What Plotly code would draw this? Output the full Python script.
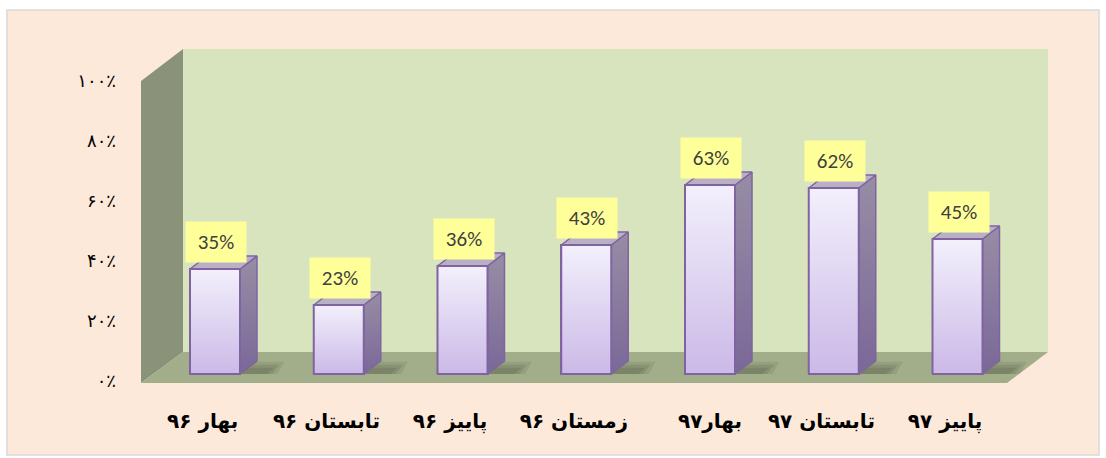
import plotly.graph_objects as go

# ---- data ----
categories = ["بهار ۹۶", "تابستان ۹۶", "پاییز ۹۶", "زمستان ۹۶", "بهار۹۷", "تابستان ۹۷", "پاییز ۹۷"]
values = [35, 23, 36, 43, 63, 62, 45]
value_labels = ["35%", "23%", "36%", "43%", "63%", "62%", "45%"]
y_tick_values = [0, 20, 40, 60, 80, 100]
y_tick_labels = ["۰٪", "۲۰٪", "۴۰٪", "۶۰٪", "۸۰٪", "۱۰۰٪"]

# ---- geometry (pixel layout of the page) ----
W, H = 1106, 458
L, R, T, B = 141, 1048, 49, 383          # plot area in pixels
PX_PER_CAT = 123.75
FIRST_CENTER = 215
PX_PER_PCT = 3.0
BAR_BASE_PX = 374                         # bars stand a bit behind the front edge
LABEL_ZERO_PX = 381
label_shift = (BAR_BASE_PX - LABEL_ZERO_PX) / PX_PER_PCT   # front-plane offset of axis labels

x0 = -(FIRST_CENTER - L) / PX_PER_CAT
x1 = x0 + (R - L) / PX_PER_CAT
h = B - T
y_lo = -(B - BAR_BASE_PX) / PX_PER_PCT
y_range = [y_lo, y_lo + h / PX_PER_PCT]

bar_w = 50 / PX_PER_CAT
dx = 17 / PX_PER_CAT
dy = 13 / PX_PER_PCT

def px(xp):
    return (xp - L) / (R - L)

def py(yp):
    return (B - yp) / (B - T)

def path(points):
    return "M " + " L ".join(f"{px(a):.5f},{py(b):.5f}" for a, b in points) + " Z"

fig = go.Figure()

outline = "#8064A2"

# front faces as bars
fig.add_trace(go.Bar(
    x=list(range(len(values))), y=values, width=bar_w,
    marker=dict(color="#DDD3F1", line=dict(color=outline, width=2)),
    showlegend=False, hoverinfo="skip",
))

# 3D side / top faces and gradient front, computed from the data values
for i, v in enumerate(values):
    xl, xr = i - bar_w / 2, i + bar_w / 2
    # soft shadow on floor
    for k, a in enumerate([0.12, 0.14, 0.16]):
        s = 1 - 0.25 * k
        fig.add_trace(go.Scatter(
            x=[xl + dx * 0.6, xr + dx * (1.0 + 1.2 * s), xr + dx * (1.4 + 1.2 * s), xl + dx * 1.4],
            y=[0, 0, dy * 0.95 * s, dy * 0.95 * s], fill="toself", mode="none",
            fillcolor=f"rgba(55,62,45,{a})", showlegend=False, hoverinfo="skip"))
    # side face
    fig.add_trace(go.Scatter(
        x=[xr, xr, xr + dx, xr + dx, xr], y=[0, v, v + dy, dy, 0],
        fill="toself", mode="lines", line=dict(color=outline, width=1.5),
        fillgradient=dict(type="vertical", colorscale=[[0, "#7A6898"], [1, "#978DA5"]]),
        showlegend=False, hoverinfo="skip"))
    # top face
    fig.add_trace(go.Scatter(
        x=[xl, xr, xr + dx, xl + dx, xl], y=[v, v, v + dy, v + dy, v],
        fill="toself", mode="lines", line=dict(color=outline, width=1.5),
        fillcolor="#B9B0C6", showlegend=False, hoverinfo="skip"))
    # gradient front face
    fig.add_trace(go.Scatter(
        x=[xl, xr, xr, xl, xl], y=[0, 0, v, v, 0],
        fill="toself", mode="lines", line=dict(color=outline, width=2),
        fillgradient=dict(type="vertical", colorscale=[[0, "#CBB9E7"], [1, "#F3F0FC"]]),
        showlegend=False, hoverinfo="skip"))

# data labels
for i, (v, t) in enumerate(zip(values, value_labels)):
    fig.add_annotation(
        x=i, y=v, xref="x", yref="y", text=t, showarrow=False,
        yshift=27, xshift=1, width=58, height=38, bgcolor="#FFFF99",
        font=dict(family="Carlito, Lato, sans-serif", size=21, color="#404040"),
        valign="middle", align="center")

# walls and floor (decoration)
shapes = [
    dict(type="rect", xref="paper", yref="paper",
         x0=px(7), x1=px(1099), y0=py(455), y1=py(10),
         fillcolor="#FDE9D9", line=dict(color="#D9D9D9", width=1.5), layer="below"),
    dict(type="path", xref="paper", yref="paper",
         path=path([(183, 49), (1048, 49), (1048, 352), (183, 352)]),
         fillcolor="#D7E4BD", line=dict(width=0), layer="below"),
    dict(type="path", xref="paper", yref="paper",
         path=path([(141, 81), (183, 49), (183, 352), (141, 383)]),
         fillcolor="#8A937A", line=dict(width=0), layer="below"),
    dict(type="path", xref="paper", yref="paper",
         path=path([(141, 383), (1007, 383), (1048, 352), (183, 352)]),
         fillcolor="#A2AD8A", line=dict(width=0), layer="below"),
]

fig.update_layout(
    width=W, height=H,
    margin=dict(l=L, r=W - R, t=T, b=H - B, pad=0),
    paper_bgcolor="white", plot_bgcolor="rgba(0,0,0,0)",
    shapes=shapes, showlegend=False, bargap=0,
    xaxis=dict(range=[x0, x1], tickvals=[i - 0.1 if i != 4 else i for i in range(len(categories))],
               ticktext=categories, showgrid=False, zeroline=False, showline=False,
               ticks="", ticklabelstandoff=24,
               tickfont=dict(family="DejaVu Sans", size=20, color="black", weight="bold"),
               fixedrange=True),
    yaxis=dict(range=y_range, tickvals=[t + label_shift for t in y_tick_values],
               ticktext=y_tick_labels,
               showgrid=False, zeroline=False, showline=False, ticks="",
               ticklabelstandoff=24,
               tickfont=dict(family="DejaVu Sans", size=18, color="black")),
)

fig.write_html("out.html", config={"displayModeBar": False},
               post_script="document.body.style.margin='0';")
